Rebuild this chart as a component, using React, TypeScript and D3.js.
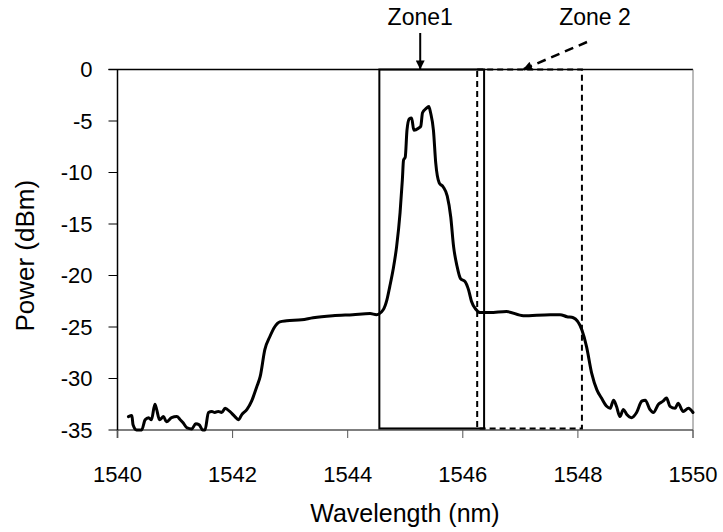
import React from "react";
import * as d3 from "d3";

const wavelength = [
  1540.19, 1540.25, 1540.27, 1540.33, 1540.42, 1540.48, 1540.54, 1540.59, 1540.65, 1540.68,
  1540.73, 1540.8, 1540.85, 1540.94, 1541.03, 1541.09, 1541.14, 1541.21, 1541.29, 1541.36,
  1541.42, 1541.48, 1541.52, 1541.58, 1541.64, 1541.69, 1541.75, 1541.81, 1541.87, 1541.95,
  1542.04, 1542.1, 1542.16, 1542.25, 1542.33, 1542.42, 1542.48, 1542.56, 1542.65, 1542.73,
  1542.82, 1542.94, 1543.2, 1543.4, 1543.74, 1544.09, 1544.39, 1544.5, 1544.62, 1544.68,
  1544.73, 1544.79, 1544.85, 1544.91, 1544.95, 1544.97, 1545.0, 1545.03, 1545.07, 1545.11,
  1545.15, 1545.23, 1545.27, 1545.3, 1545.36, 1545.41, 1545.44, 1545.49, 1545.53, 1545.59,
  1545.66, 1545.73, 1545.79, 1545.84, 1545.9, 1545.96, 1546.04, 1546.1, 1546.15, 1546.23,
  1546.3, 1546.47, 1546.76, 1547.05, 1547.52, 1547.69, 1547.81, 1547.92, 1548.07, 1548.15,
  1548.24, 1548.33, 1548.41, 1548.5, 1548.56, 1548.62, 1548.67, 1548.73, 1548.79, 1548.85,
  1548.93, 1549.02, 1549.11, 1549.17, 1549.25, 1549.31, 1549.4, 1549.48, 1549.54, 1549.6,
  1549.69, 1549.74, 1549.83, 1549.92, 1550.0,
];
const power = [
  -33.7, -33.6, -34.5, -35.0, -35.0, -34.0, -33.8, -34.0, -32.5, -33.0,
  -34.0, -33.7, -34.2, -33.8, -33.7, -34.0, -34.3, -34.8, -34.9, -34.4,
  -34.5, -35.0, -35.0, -33.3, -33.2, -33.3, -33.2, -33.3, -32.9, -33.2,
  -33.7, -34.0, -33.5, -33.0, -32.2, -30.8, -29.8, -27.2, -25.9, -25.0,
  -24.5, -24.4, -24.3, -24.1, -23.9, -23.8, -23.7, -23.8, -23.3, -22.4,
  -21.1, -19.4, -17.2, -13.9, -10.7, -8.8, -8.5, -5.9, -4.8, -4.7,
  -5.9, -5.7, -5.5, -4.2, -3.8, -3.6, -4.2, -5.9, -9.1, -11.0,
  -11.4, -12.3, -14.3, -17.2, -19.1, -20.3, -20.6, -21.4, -22.5, -23.3,
  -23.6, -23.6, -23.5, -23.9, -23.8, -23.8, -24.0, -24.1, -25.3, -26.9,
  -29.5, -31.1, -31.9, -32.7, -32.9, -32.1, -32.7, -33.7, -33.0, -33.5,
  -33.8, -33.3, -32.2, -32.1, -33.0, -33.3, -32.5, -32.2, -31.9, -32.7,
  -32.9, -32.4, -33.2, -32.9, -33.3,
];

const xTicks = [1540, 1542, 1544, 1546, 1548, 1550];
const yTicks = [0, -5, -10, -15, -20, -25, -30, -35];

const zone1 = [1544.55, 1546.37];
const zone2 = [1546.25, 1548.07];
const zoneTop = 0;
const zoneBottom = -34.85;

const FONT = "'Liberation Sans', Arial, sans-serif";

export default function App() {
  const x = d3.scaleLinear().domain([1540, 1550]).range([117.5, 693]);
  const y = d3.scaleLinear().domain([-35, 0]).range([430, 69.5]);
  const pts: [number, number][] = wavelength.map((w, i) => [w, power[i]]);
  const line = d3
    .line<[number, number]>()
    .x((d) => x(d[0]))
    .y((d) => y(d[1]))
    .curve(d3.curveMonotoneX);

  const x0 = x(1540);
  const x1 = x(1550);
  const yT = y(0);
  const yB = y(-35);

  const z1x = x(1545.26);

  return (
    <svg
      width={723}
      height={532}
      style={{ position: "absolute", left: 0, top: 0, background: "#fff" }}
    >
      <defs>
        <marker id="ah" viewBox="0 0 10 10" refX="10" refY="5" markerWidth="10" markerHeight="9" markerUnits="userSpaceOnUse" orient="auto">
          <path d="M0,0 L10,5 L0,10 z" fill="#000" />
        </marker>
      </defs>
      {/* frame */}
      <line x1={x0 - 9} x2={x1} y1={yT} y2={yT} stroke="#000" strokeWidth={1.5} />
      <line x1={x1} x2={x1} y1={yT} y2={yB + 8} stroke="#777" strokeWidth={1} />
      <line x1={x0} x2={x1} y1={yB} y2={yB} stroke="#555" strokeWidth={1.5} />
      <line x1={x0} x2={x0} y1={yT} y2={yB + 8} stroke="#000" strokeWidth={1.5} />
      {yTicks.map((t) => (
        <g key={"y" + t}>
          <line x1={x0 - 9} x2={x0} y1={y(t)} y2={y(t)} stroke="#000" strokeWidth={1} />
          <text x={x0 - 25} y={y(t)} dy="0.36em" textAnchor="end" fontFamily={FONT} fontSize={22}>
            {t}
          </text>
        </g>
      ))}
      {xTicks.map((t) => (
        <g key={"x" + t}>
          <line x1={x(t)} x2={x(t)} y1={yB} y2={yB + 8} stroke="#555" strokeWidth={1} />
          <text x={x(t)} y={482} textAnchor="middle" fontFamily={FONT} fontSize={22}>
            {t}
          </text>
        </g>
      ))}
      <text x={405} y={522} textAnchor="middle" fontFamily={FONT} fontSize={25}>
        Wavelength (nm)
      </text>
      <text
        transform={`translate(34,${(yT + yB) / 2 + 6}) rotate(-90)`}
        textAnchor="middle"
        fontFamily={FONT}
        fontSize={26}
      >
        Power (dBm)
      </text>

      {/* zones */}
      <rect
        x={x(zone1[0])}
        y={y(zoneTop)}
        width={x(zone1[1]) - x(zone1[0])}
        height={y(zoneBottom) - y(zoneTop)}
        fill="none"
        stroke="#000"
        strokeWidth={2}
      />
      <rect
        x={x(zone2[0])}
        y={y(zoneTop)}
        width={x(zone2[1]) - x(zone2[0])}
        height={y(zoneBottom) - y(zoneTop)}
        fill="none"
        stroke="#000"
        strokeWidth={2}
        strokeDasharray="6,4"
      />

      {/* curve */}
      <path d={line(pts) || ""} fill="none" stroke="#000" strokeWidth={3} strokeLinejoin="round" strokeLinecap="round" />

      {/* annotations */}
      <text x={z1x} y={25} textAnchor="middle" fontFamily={FONT} fontSize={23}>
        Zone1
      </text>
      <line x1={z1x} x2={z1x} y1={33} y2={yT} stroke="#000" strokeWidth={2} markerEnd="url(#ah)" />
      <text x={595} y={25} textAnchor="middle" fontFamily={FONT} fontSize={23}>
        Zone 2
      </text>
      <line x1={587} x2={523} y1={42} y2={yT} stroke="#000" strokeWidth={2.5} strokeDasharray="9,6" markerEnd="url(#ah)" />
    </svg>
  );
}
